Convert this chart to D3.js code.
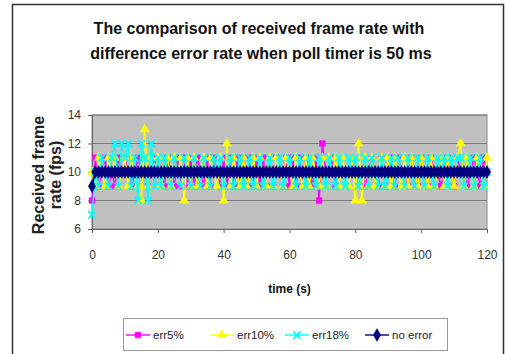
<!DOCTYPE html>
<html>
<head>
<meta charset="utf-8">
<script src="https://cdn.jsdelivr.net/npm/d3@7"></script>
<style>
  html, body { margin: 0; padding: 0; background: #fff; }
  svg { display: block; font-family: "Liberation Sans", Arial, sans-serif; }
</style>
</head>
<body>
<svg id="chart" width="505" height="354"></svg>
<script>
// time axis, one sample per second
const times = d3.range(0, 121);

const err5 = [8,
  11,9,10,11,9,10,9,11,10,11,
  10,9,10,11,10,10,9,10,11,10,
  10,9,11,10,9,11,9,11,9,11,
  9,11,10,9,11,9,11,10,9,11,
  9,11,9,11,9,11,9,11,9,11,
  9,11,9,11,9,11,10,9,11,9,
  11,9,11,9,11,10,9,11,8,12,
  10,10,11,9,10,10,10,10,10,10,
  10,10,9,10,11,10,9,11,9,10,
  11,9,11,10,10,9,11,10,9,11,
  10,9,11,10,10,9,10,11,10,9,
  11,10,10,9,10,11,10,9,11,10];

const err10 = [10,
  9,11,10,9,11,10,11,9,10,11,
  9,11,10,9,8,13,9,11,10,11,
  9,10,11,9,11,10,11,8,11,9,
  11,9,10,11,9,11,10,9,11,8,
  12,9,11,10,9,11,9,10,11,9,
  11,10,9,11,9,11,10,9,11,10,
  9,11,10,9,11,9,11,10,9,11,
  9,11,10,11,9,11,10,9,11,8,
  12,8,11,9,11,9,10,11,9,11,
  9,11,10,9,11,9,11,10,9,11,
  10,9,11,9,10,11,9,11,10,9,
  11,12,9,11,10,9,11,10,9,11];

const err18 = [7,
  10,9,11,10,9,11,12,9,12,11,
  12,9,11,8,12,11,8,12,9,11,
  9,11,10,9,11,10,9,11,10,9,
  11,10,9,11,10,9,11,10,11,9,
  10,11,9,10,11,9,10,11,9,10,
  11,9,10,11,9,10,11,9,10,11,
  10,9,11,10,9,11,10,9,11,10,
  9,11,10,9,11,10,9,11,10,11,
  9,10,11,9,11,10,9,11,9,10,
  11,9,11,10,9,11,10,9,11,10,
  9,11,10,9,11,10,11,9,11,10,
  11,11,9,10,11,9,10,11,9,10];

const noError = [9,
  10,10,10,10,10,10,10,10,10,10,
  10,10,10,10,10,10,10,10,10,10,
  10,10,10,10,10,10,10,10,10,10,
  10,10,10,10,10,10,10,10,10,10,
  10,10,10,10,10,10,10,10,10,10,
  10,10,10,10,10,10,10,10,10,10,
  10,10,10,10,10,10,10,10,10,10,
  10,10,10,10,10,10,10,10,10,10,
  10,10,10,10,10,10,10,10,10,10,
  10,10,10,10,10,10,10,10,10,10,
  10,10,10,10,10,10,10,10,10,10,
  10,10,10,10,10,10,10,10,10,10];

const seriesNames = ['err5%', 'err10%', 'err18%', 'no error'];
const xTicks = [0, 20, 40, 60, 80, 100, 120];
const yTicks = [6, 8, 10, 12, 14];

const series = [
  { name: seriesNames[0], values: err5, color: '#ff00ff', marker: 'square' },
  { name: seriesNames[1], values: err10, color: '#ffff00', marker: 'triangle' },
  { name: seriesNames[2], values: err18, color: '#00ffff', marker: 'cross' },
  { name: seriesNames[3], values: noError, color: '#000080', marker: 'diamond' },
];

const svg = d3.select('#chart');

// outer chart frame
svg.append('rect')
  .attr('x', 12.5).attr('y', 4.5)
  .attr('width', 491).attr('height', 360)
  .attr('fill', '#fff').attr('stroke', '#333').attr('stroke-width', 1.5);

const x = d3.scaleLinear().domain([0, 120]).range([92, 487]);
const y = d3.scaleLinear().domain([6, 14]).range([229, 115]);

// plot area
svg.append('rect')
  .attr('x', x(0)).attr('y', y(14))
  .attr('width', x(120) - x(0)).attr('height', y(6) - y(14))
  .attr('fill', '#c0c0c0').attr('stroke', '#8a8a8a');

svg.append('g')
  .selectAll('line')
  .data(yTicks.filter(d => d > 6))
  .join('line')
  .attr('x1', x(0)).attr('x2', x(120))
  .attr('y1', d => y(d)).attr('y2', d => y(d))
  .attr('stroke', '#7a7a7a').attr('stroke-width', 1);

// axes
const xAxis = svg.append('g')
  .attr('transform', `translate(0,${y(6)})`)
  .call(d3.axisBottom(x).tickValues(xTicks).tickSize(4).tickPadding(17).tickFormat(d3.format('d')));
const yAxis = svg.append('g')
  .attr('transform', `translate(${x(0)},0)`)
  .call(d3.axisLeft(y).tickValues(yTicks).tickSize(4).tickPadding(7).tickFormat(d3.format('d')));
[xAxis, yAxis].forEach(a => {
  a.select('.domain').attr('stroke', '#666');
  a.selectAll('.tick line').attr('stroke', '#666');
  a.selectAll('.tick text')
    .attr('fill', '#333')
    .style('font-size', '12px')
    .style('font-family', '"Liberation Sans", Arial, sans-serif');
});

// series lines and markers
const line = d3.line().x((d, i) => x(times[i])).y(d => y(d));
const symbols = {
  square: d3.symbolSquare,
  triangle: d3.symbolTriangle,
  cross: d3.symbolX,
  diamond: d3.symbolDiamond,
};
const symSize = { square: 32, triangle: 34, cross: 36, diamond: 46 };

function drawMarker(g, s) {
  const sym = d3.symbol().type(symbols[s.marker]).size(symSize[s.marker]);
  return g.append('path')
    .attr('d', sym())
    .attr('fill', s.marker === 'cross' ? 'none' : s.color)
    .attr('stroke', s.color)
    .attr('stroke-width', s.marker === 'cross' ? 1.8 : 0.6);
}

series.forEach(s => {
  const g = svg.append('g');
  g.append('path')
    .datum(s.values)
    .attr('d', line)
    .attr('fill', 'none')
    .attr('stroke', s.color)
    .attr('stroke-width', 1.5);
  s.values.forEach((v, i) => {
    drawMarker(g, s).attr('transform', `translate(${x(times[i])},${y(v)})`);
  });
});

// title
const title = svg.append('text')
  .attr('text-anchor', 'middle')
  .attr('font-weight', 'bold')
  .attr('font-size', 16)
  .attr('fill', '#111');
title.append('tspan').attr('x', 259).attr('y', 34).text('The comparison of received frame rate with');
title.append('tspan').attr('x', 261).attr('y', 59).text('difference error rate when poll timer is 50 ms');

// axis titles
svg.append('text')
  .attr('x', x(60)).attr('y', 293)
  .attr('text-anchor', 'middle')
  .attr('font-weight', 'bold').attr('font-size', 12)
  .attr('fill', '#111')
  .text('time (s)');

const yTitle = svg.append('text')
  .attr('transform', 'translate(0,175) rotate(-90)')
  .attr('text-anchor', 'middle')
  .attr('font-weight', 'bold').attr('font-size', 16)
  .attr('fill', '#222');
yTitle.append('tspan').attr('x', 0).attr('y', 44).text('Received frame');
yTitle.append('tspan').attr('x', 0).attr('y', 61).text('rate (fps)');

// legend
const legend = svg.append('g');
legend.append('rect')
  .attr('x', 123.5).attr('y', 318.5)
  .attr('width', 324).attr('height', 32)
  .attr('fill', '#fff').attr('stroke', '#999');

const legendX = [126, 210, 285, 365];
series.forEach((s, i) => {
  const g = legend.append('g').attr('transform', `translate(${legendX[i]},335)`);
  g.append('line')
    .attr('x1', 0).attr('x2', 24)
    .attr('stroke', s.color).attr('stroke-width', 1.4);
  drawMarker(g, s).attr('transform', 'translate(12,0)');
  g.append('text')
    .attr('x', 27).attr('y', 4)
    .attr('font-size', 11.5)
    .attr('fill', '#222')
    .text(s.name);
});
</script>
</body>
</html>
